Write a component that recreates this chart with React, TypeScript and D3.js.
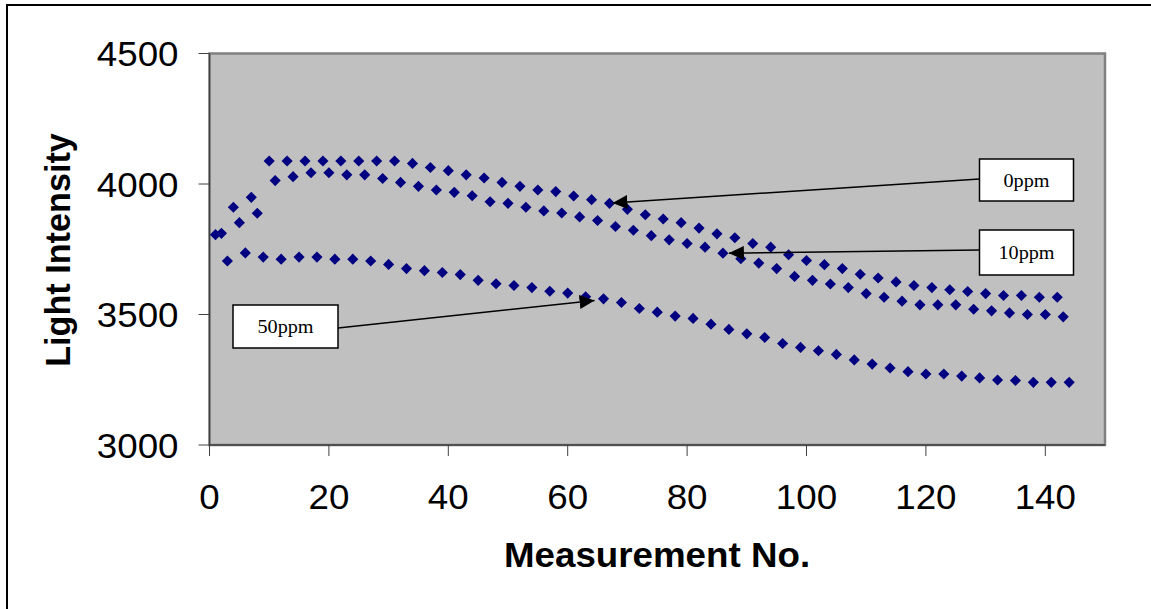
import React from "react";
import * as d3 from "d3";

// Measurement numbers: each concentration sampled every third measurement
const x0ppm = d3.range(1, 143, 3);
const x10ppm = d3.range(2, 144, 3);
const x50ppm = d3.range(3, 145, 3);

const y0ppm = [
  3806, 3911, 3949, 4088, 4088, 4088, 4088, 4088, 4088, 4088, 4088, 4079,
  4063, 4051, 4035, 4023, 4006, 3991, 3977, 3971, 3954, 3940, 3926, 3903,
  3882, 3866, 3852, 3831, 3809, 3794, 3772, 3758, 3729, 3707, 3691, 3676,
  3654, 3640, 3625, 3611, 3603, 3595, 3588, 3580, 3573, 3573, 3566, 3566,
];
const y10ppm = [
  3811, 3852, 3888, 4013, 4028, 4043, 4043, 4035, 4035, 4021, 4006, 3991,
  3977, 3968, 3955, 3932, 3926, 3911, 3897, 3889, 3874, 3860, 3837, 3823,
  3802, 3786, 3772, 3758, 3735, 3714, 3697, 3676, 3646, 3631, 3617, 3603,
  3580, 3566, 3551, 3537, 3537, 3537, 3520, 3514, 3506, 3500, 3500, 3491,
];
const y50ppm = [
  3705, 3736, 3720, 3712, 3720, 3720, 3712, 3712, 3705, 3692, 3676, 3668,
  3661, 3653, 3631, 3618, 3611, 3603, 3589, 3582, 3568, 3560, 3546, 3523,
  3509, 3494, 3485, 3463, 3443, 3426, 3412, 3389, 3374, 3361, 3347, 3326,
  3310, 3295, 3281, 3272, 3272, 3264, 3257, 3249, 3247, 3240, 3240, 3240,
];

const xTicks = [0, 20, 40, 60, 80, 100, 120, 140];
const yTicks = [3000, 3500, 4000, 4500];

// annotation labels and the data point each arrow targets
const labels = ["0ppm", "10ppm", "50ppm"];
const arrowTargets: [number, number][] = [
  [67.5, 3927],
  [87, 3735],
  [64.5, 3554],
];

const W = 1151;
const H = 609;
const SX = 1.065; // horizontal stretch of the original rendering

export default function App() {
  const left = 209.5;
  const right = 1105;
  const top = 53.5;
  const bottom = 445;
  const x = d3.scaleLinear().domain([0, 150]).range([left, right]);
  const y = d3.scaleLinear().domain([3000, 4500]).range([bottom, top]);
  const diamond = d3.symbol(d3.symbolSquare, 62)() as string;
  const font = "'Liberation Sans', Arial, sans-serif";
  const serif = "'Liberation Serif', 'Times New Roman', serif";

  const series = [
    { xs: x0ppm, ys: y0ppm },
    { xs: x10ppm, ys: y10ppm },
    { xs: x50ppm, ys: y50ppm },
  ];

  const boxes = [
    { x: 979.5, y: 159, w: 94, h: 42, ax: 979.5, ay: 179 },
    { x: 979.5, y: 230, w: 94, h: 45, ax: 979.5, ay: 250 },
    { x: 233, y: 305, w: 105, h: 43, ax: 338, ay: 328 },
  ];

  return (
    <svg
      width={W}
      height={H}
      style={{ position: "absolute", left: 0, top: 0, background: "#fff" }}
    >
      <defs>
        <marker
          id="arr"
          viewBox="0 0 15 14"
          refX={15}
          refY={7}
          markerWidth={15}
          markerHeight={14}
          markerUnits="userSpaceOnUse"
          orient="auto"
        >
          <path d="M0,0 L15,7 L0,14 Z" fill="#000" />
        </marker>
      </defs>
      <path d={`M7,${H + 5} V5 H${W + 5}`} fill="none" stroke="#000" strokeWidth={2} />
      <rect
        x={left}
        y={top}
        width={right - left}
        height={bottom - top}
        fill="#c0c0c0"
        stroke="#808080"
        strokeWidth={2.5}
      />
      {/* axes */}
      <line x1={left} x2={left} y1={top} y2={bottom} stroke="#404040" strokeWidth={1.3} />
      <line x1={left} x2={right} y1={bottom} y2={bottom} stroke="#404040" strokeWidth={1.3} />
      {yTicks.map((t) => (
        <g key={"y" + t}>
          <line x1={left - 11} x2={left} y1={y(t)} y2={y(t)} stroke="#404040" strokeWidth={1} />
          <text
            transform={`translate(178.5,${y(t) + 12.8}) scale(${SX},1)`}
            textAnchor="end"
            fontFamily={font}
            fontSize={34.5}
            fill="#000"
          >
            {t}
          </text>
        </g>
      ))}
      {xTicks.map((t) => (
        <g key={"x" + t}>
          <line x1={x(t)} x2={x(t)} y1={bottom} y2={bottom + 11} stroke="#404040" strokeWidth={1} />
          <text
            transform={`translate(${x(t)},509.3) scale(${SX},1)`}
            textAnchor="middle"
            fontFamily={font}
            fontSize={34.5}
            fill="#000"
          >
            {t}
          </text>
        </g>
      ))}
      <text
        transform={`translate(657,567) scale(${SX},1)`}
        textAnchor="middle"
        fontFamily={font}
        fontSize={34.5}
        fontWeight="bold"
      >
        Measurement No.
      </text>
      <text
        transform={`translate(69.5,250) rotate(-90)`}
        textAnchor="middle"
        fontFamily={font}
        fontSize={34.2}
        fontWeight="bold"
      >
        Light Intensity
      </text>
      {/* data */}
      {series.map((s, si) =>
        s.xs.map((xv, i) => (
          <path
            key={si + "-" + i}
            d={diamond}
            transform={`translate(${x(xv)},${y(s.ys[i])}) rotate(45)`}
            fill="#000080"
          />
        ))
      )}
      {/* annotations */}
      {boxes.map((b, i) => (
        <g key={"b" + i}>
          <line
            x1={b.ax}
            y1={b.ay}
            x2={x(arrowTargets[i][0])}
            y2={y(arrowTargets[i][1])}
            stroke="#000"
            strokeWidth={1.5}
            markerEnd="url(#arr)"
          />
          <rect x={b.x} y={b.y} width={b.w} height={b.h} fill="#fff" stroke="#000" strokeWidth={1.5} />
          <text
            transform={`translate(${b.x + b.w / 2},${b.y + b.h / 2 + 6.5}) scale(${SX},1)`}
            textAnchor="middle"
            fontFamily={serif}
            fontSize={19}
          >
            {labels[i]}
          </text>
        </g>
      ))}
    </svg>
  );
}
